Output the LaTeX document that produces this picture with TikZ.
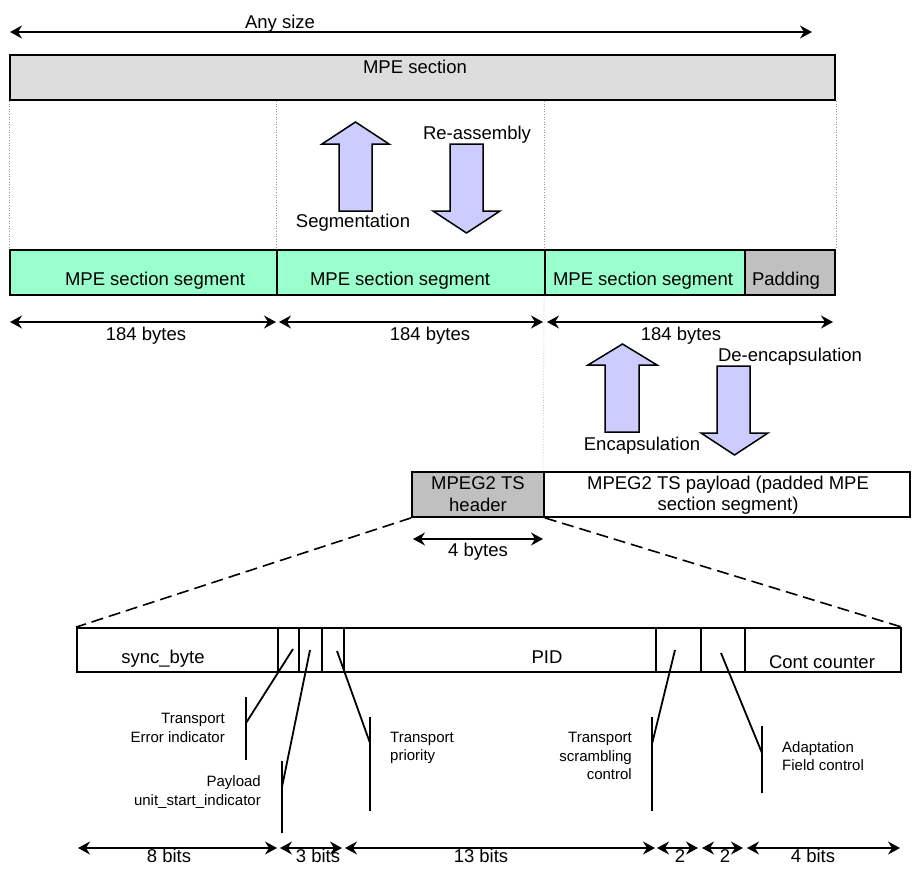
\documentclass[tikz,border=0pt]{standalone}
\usepackage{fontspec}
\setmainfont{Liberation Sans}
\usetikzlibrary{arrows.meta}
\definecolor{lav}{RGB}{204,204,255}
\definecolor{mint}{RGB}{153,255,204}
\definecolor{lgray}{RGB}{221,221,221}
\definecolor{mgray}{RGB}{192,192,192}
\begin{document}
\begin{tikzpicture}[x=1pt,y=-1pt,
  bigtxt/.style={font=\fontsize{18.5}{21}\selectfont, inner sep=0pt, text height=13pt, text depth=0pt},
  bigml/.style={font=\fontsize{18.5}{21.5}\selectfont, inner sep=0pt, align=center},
  smalltxt/.style={font=\fontsize{15}{18.5}\selectfont, inner sep=0pt},
  boxn/.style={draw=black, line width=1.8pt, inner sep=0pt, rectangle},
  dimline/.style={line width=1.3pt, {Stealth[length=12pt,width=13pt,inset=4pt]}-{Stealth[length=12pt,width=13pt,inset=4pt]}},
  guide/.style={draw=black!40, line width=0.6pt, dotted},
  bigarrow/.style={draw=black, line width=1.5pt, fill=lav, line join=miter},
  callout/.style={line width=1.8pt},
  dashline/.style={line width=1.6pt, dash pattern=on 12pt off 6pt},
]
\useasboundingbox (0,0) rectangle (913,868);

% ---------- top section ----------
\coordinate (as1) at (10,32);
\coordinate (as2) at (812,32);
\draw[dimline] (as1) -- (as2);
\node[bigtxt] (anysize) at (280,22) {Any size};

\node[boxn, fill=lgray, minimum width=825pt, minimum height=45pt] (mpe) at (422.5,77.5) {};
\node[bigtxt] (mpet) at (415,67) {MPE section};

% ---------- segments ----------
\node[boxn, fill=mint, minimum width=267pt, minimum height=45pt] (seg1) at (143.5,272.5) {};
\node[boxn, fill=mint, minimum width=268pt, minimum height=45pt] (seg2) at (411,272.5) {};
\node[boxn, fill=mint, minimum width=200pt, minimum height=45pt] (seg3) at (645,272.5) {};
\node[boxn, fill=mgray, minimum width=90pt, minimum height=45pt] (pad) at (790,272.5) {};
\node[bigtxt] (seg1t) at (155,279) {MPE section segment};
\node[bigtxt] (seg2t) at (400,279) {MPE section segment};
\node[bigtxt] (seg3t) at (643,279) {MPE section segment};
\node[bigtxt] (padt) at (786,279) {Padding};

% guides
\draw[guide] (mpe.south west) -- (seg1.north west);
\draw[guide] (mpe.south -| seg2.west) -- (seg2.north west);
\draw[guide] (mpe.south -| seg3.west) -- (seg3.north west);
\draw[guide] (mpe.south east) -- (pad.north east);

% segmentation / reassembly arrows
\draw[bigarrow] (339,211) -- (339,144) -- (322,144) -- (355.5,122) -- (389,144) -- (372,144) -- (372,211) -- cycle;
\draw[bigarrow] (450,144) -- (450,211) -- (433,211) -- (466.5,233) -- (500,211) -- (483,211) -- (483,144) -- cycle;
\node[bigtxt] (segm) at (353,221) {Segmentation};
\node[bigtxt] (reas) at (477,133) {Re-assembly};

% 184 bytes
\coordinate (b1a) at (10,322); \coordinate (b1b) at (276,322);
\coordinate (b2a) at (279,322); \coordinate (b2b) at (543,322);
\coordinate (b3a) at (547,322); \coordinate (b3b) at (833,322);
\draw[dimline] (b1a) -- (b1b);
\draw[dimline] (b2a) -- (b2b);
\draw[dimline] (b3a) -- (b3b);
\node[bigtxt] (b1t) at (146,334) {184 bytes};
\node[bigtxt] (b2t) at (430,334) {184 bytes};
\node[bigtxt] (b3t) at (681,334) {184 bytes};

% encapsulation arrows
\draw[bigarrow] (605,432) -- (605,365) -- (588,365) -- (622.5,344) -- (657,365) -- (639,365) -- (639,432) -- cycle;
\draw[bigarrow] (717,366) -- (717,433) -- (701,433) -- (734.5,455) -- (768,433) -- (750,433) -- (750,366) -- cycle;
\node[bigtxt] (enc) at (642,444) {Encapsulation};
\node[bigtxt] (dec) at (790,355) {De-encapsulation};

% ---------- MPEG2 TS packet ----------
\node[boxn, fill=mgray, minimum width=132pt, minimum height=45pt] (hdr) at (478,494.5) {};
\node[boxn, fill=white, minimum width=366pt, minimum height=45pt] (pay) at (727,494.5) {};
\node[bigml] (hdrt) at (478,494) {MPEG2 TS\\header};
\node[bigml] (payt) at (728,495) {MPEG2 TS payload (padded MPE\\section segment)};
\draw[guide] (seg3.south west) -- (pay.north west);

\coordinate (fb1) at (413,539); \coordinate (fb2) at (543,539);
\draw[dimline] (fb1) -- (fb2);
\node[bigtxt] (fbt) at (478,550) {4 bytes};

% ---------- header fields ----------
\node[boxn, minimum width=201pt, minimum height=44pt] (sync) at (177.5,650) {};
\node[boxn, minimum width=21pt, minimum height=44pt] (tei) at (288.5,650) {};
\node[boxn, minimum width=23pt, minimum height=44pt] (pusi) at (310.5,650) {};
\node[boxn, minimum width=22pt, minimum height=44pt] (tp) at (333,650) {};
\node[boxn, minimum width=312pt, minimum height=44pt] (pid) at (500,650) {};
\node[boxn, minimum width=45pt, minimum height=44pt] (tsc) at (678.5,650) {};
\node[boxn, minimum width=44pt, minimum height=44pt] (afc) at (723,650) {};
\node[boxn, minimum width=156pt, minimum height=44pt] (cc) at (823,650) {};
\node[bigtxt] (synct) at (163,657) {sync\_byte};
\node[bigtxt] (pidt) at (547,657) {PID};
\node[bigtxt] (cct) at (822,662) {Cont counter};

\draw[dashline] (hdr.south west) -- (sync.north west);
\draw[dashline] (hdr.south east) -- (cc.north east);

% callouts
\coordinate (c1a) at (293,649); \coordinate (c1b) at (246,723);
\coordinate (c1t) at (246,697); \coordinate (c1u) at (246,760);
\draw[callout] (c1a) -- (c1b); \draw[callout] (c1t) -- (c1u);
\node[smalltxt, anchor=east, align=right] (teil) at (225,728) {Transport\\Error indicator};

\coordinate (c2a) at (310,650); \coordinate (c2b) at (282,787);
\coordinate (c2t) at (282,761); \coordinate (c2u) at (282,833);
\draw[callout] (c2a) -- (c2b); \draw[callout] (c2t) -- (c2u);
\node[smalltxt, anchor=east, align=right] (pusil) at (261,792) {Payload\\unit\_start\_indicator};

\coordinate (c3a) at (337,651); \coordinate (c3b) at (370,743);
\coordinate (c3t) at (370,717); \coordinate (c3u) at (370,811);
\draw[callout] (c3a) -- (c3b); \draw[callout] (c3t) -- (c3u);
\node[smalltxt, anchor=west, align=left] (tpl) at (390,748) {Transport\\priority};

\coordinate (c4a) at (675,650); \coordinate (c4b) at (652,744);
\coordinate (c4t) at (652,717); \coordinate (c4u) at (652,811);
\draw[callout] (c4a) -- (c4b); \draw[callout] (c4t) -- (c4u);
\node[smalltxt, anchor=east, align=right] (tscl) at (632,756) {Transport\\scrambling\\control};

\coordinate (c5a) at (721,653); \coordinate (c5b) at (762,753);
\coordinate (c5t) at (762,726); \coordinate (c5u) at (762,793);
\draw[callout] (c5a) -- (c5b); \draw[callout] (c5t) -- (c5u);
\node[smalltxt, anchor=west, align=left] (afcl) at (782,756) {Adaptation\\Field control};

% bits
\coordinate (d1a) at (78,848);  \coordinate (d1b) at (277,848);
\coordinate (d2a) at (280,848); \coordinate (d2b) at (342,848);
\coordinate (d3a) at (345,848); \coordinate (d3b) at (655,848);
\coordinate (d4a) at (657,848); \coordinate (d4b) at (698,848);
\coordinate (d5a) at (702,848); \coordinate (d5b) at (743,848);
\coordinate (d6a) at (747,848); \coordinate (d6b) at (900,848);
\draw[dimline] (d1a) -- (d1b);
\draw[dimline] (d2a) -- (d2b);
\draw[dimline] (d3a) -- (d3b);
\draw[dimline] (d4a) -- (d4b);
\draw[dimline] (d5a) -- (d5b);
\draw[dimline] (d6a) -- (d6b);
\node[bigtxt] (d1t) at (169,856) {8 bits};
\node[bigtxt] (d2t) at (318,856) {3 bits};
\node[bigtxt] (d3t) at (481,856) {13 bits};
\node[bigtxt] (d4t) at (680,856) {2};
\node[bigtxt] (d5t) at (725,856) {2};
\node[bigtxt] (d6t) at (813,856) {4 bits};
\end{tikzpicture}
\end{document}
